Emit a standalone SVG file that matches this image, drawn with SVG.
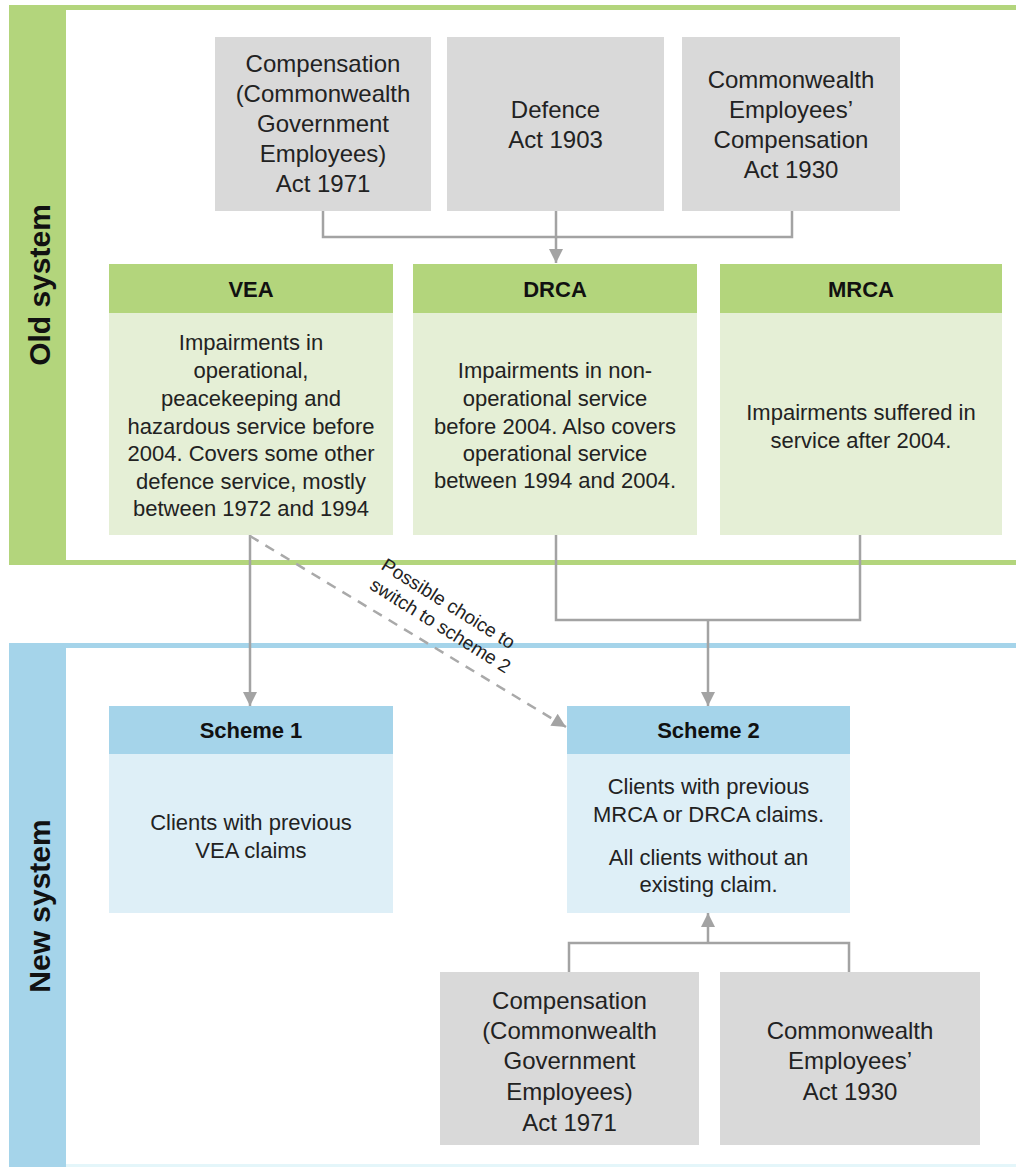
<svg xmlns="http://www.w3.org/2000/svg" width="1016" height="1167" viewBox="0 0 1016 1167">
<style>
.t{font-family:"Liberation Sans",Arial,sans-serif;fill:#222;text-anchor:middle}
.b22{font-size:22px}
.b24{font-size:24px}
.h{font-size:22px;font-weight:bold;fill:#111}
.side{font-family:"Liberation Sans",Arial,sans-serif;font-size:30px;font-weight:bold;fill:#111;text-anchor:middle}
.gray{fill:#d9d9d9}
.gh{fill:#b3d57c}
.gb{fill:#e5efd6}
.bh{fill:#a5d4ea}
.bb{fill:#deeff7}
.c{fill:none;stroke:#a3a3a3;stroke-width:2.5}
.d{fill:none;stroke:#a9a9a9;stroke-width:2.5;stroke-dasharray:10 8}
</style>
<defs>
<marker id="ah" viewBox="0 0 10 10" refX="10" refY="5" markerUnits="userSpaceOnUse" markerWidth="15" markerHeight="14" orient="auto">
<path d="M0,0 L10,5 L0,10 z" fill="#a3a3a3"/>
</marker>
</defs>
<rect width="1016" height="1167" fill="#ffffff"/>
<g id="old-system">
<rect x="9" y="5" width="1007" height="5" fill="#b3d57c"/>
<rect x="9" y="5" width="57" height="560" fill="#b3d57c"/>
<rect x="9" y="560" width="1007" height="5" fill="#b3d57c"/>
<text class="side" transform="translate(39,285) rotate(-90)" dy="0.35em">Old system</text>
</g>
<g id="new-system">
<rect x="9" y="643" width="1007" height="5" fill="#a5d4ea"/>
<rect x="9" y="643" width="57" height="524" fill="#a5d4ea"/>
<rect x="66" y="1164" width="950" height="3" fill="#e4f6fa"/>
<text class="side" transform="translate(39,906) rotate(-90)" dy="0.35em">New system</text>
</g>
<g id="connectors">
<path class="c" d="M323,211 V237 H792 V211"/>
<path class="c" d="M556,211 V263" marker-end="url(#ah)"/>
<path class="c" d="M250,535 V706" marker-end="url(#ah)"/>
<path class="d" d="M250,536 L566,727" marker-end="url(#ah)"/>
<path class="c" d="M556,535 V620 H860 V535"/>
<path class="c" d="M708,620 V706" marker-end="url(#ah)"/>
<path class="c" d="M569,972 V943 H849 V972"/>
<path class="c" d="M708,943 V913" marker-end="url(#ah)"/>
<g id="switch-label" class="t" style="font-size:19px">
<text transform="translate(445,609) rotate(32)">Possible choice to</text>
<text transform="translate(437,631) rotate(32)">switch to scheme 2</text>
</g>
</g>
<g id="act1971-top">
<rect class="gray" x="215" y="37" width="216" height="174"/>
<text class="t b24"><tspan x="323" y="72">Compensation</tspan><tspan x="323" y="102">(Commonwealth</tspan><tspan x="323" y="132">Government</tspan><tspan x="323" y="162">Employees)</tspan><tspan x="323" y="192">Act 1971</tspan></text>
</g>
<g id="defence1903">
<rect class="gray" x="447" y="37" width="217" height="174"/>
<text class="t b24"><tspan x="555.5" y="117.5">Defence</tspan><tspan x="555.5" y="147.5">Act 1903</tspan></text>
</g>
<g id="act1930-top">
<rect class="gray" x="682" y="37" width="218" height="174"/>
<text class="t b24"><tspan x="791" y="87.5">Commonwealth</tspan><tspan x="791" y="117.5">Employees’</tspan><tspan x="791" y="147.5">Compensation</tspan><tspan x="791" y="177.5">Act 1930</tspan></text>
</g>
<g id="vea">
<rect class="gb" x="109" y="264" width="284" height="271"/>
<rect class="gh" x="109" y="264" width="284" height="49"/>
<text class="t h" x="251" y="296.5">VEA</text>
<text class="t b22"><tspan x="251" y="350">Impairments in</tspan><tspan x="251" y="378">operational,</tspan><tspan x="251" y="406">peacekeeping and</tspan><tspan x="251" y="434">hazardous service before</tspan><tspan x="251" y="461">2004. Covers some other</tspan><tspan x="251" y="489">defence service, mostly</tspan><tspan x="251" y="516">between 1972 and 1994</tspan></text>
</g>
<g id="drca">
<rect class="gb" x="413" y="264" width="284" height="271"/>
<rect class="gh" x="413" y="264" width="284" height="49"/>
<text class="t h" x="555" y="296.5">DRCA</text>
<text class="t b22"><tspan x="555" y="378">Impairments in non-</tspan><tspan x="555" y="406">operational service</tspan><tspan x="555" y="434">before 2004. Also covers</tspan><tspan x="555" y="461">operational service</tspan><tspan x="555" y="488">between 1994 and 2004.</tspan></text>
</g>
<g id="mrca">
<rect class="gb" x="720" y="264" width="282" height="271"/>
<rect class="gh" x="720" y="264" width="282" height="49"/>
<text class="t h" x="861" y="296.5">MRCA</text>
<text class="t b22"><tspan x="861" y="420">Impairments suffered in</tspan><tspan x="861" y="448">service after 2004.</tspan></text>
</g>
<g id="scheme1">
<rect class="bb" x="109" y="706" width="284" height="207"/>
<rect class="bh" x="109" y="706" width="284" height="48"/>
<text class="t h" x="251" y="738">Scheme 1</text>
<text class="t b22"><tspan x="251" y="830">Clients with previous</tspan><tspan x="251" y="858">VEA claims</tspan></text>
</g>
<g id="scheme2">
<rect class="bb" x="567" y="706" width="283" height="207"/>
<rect class="bh" x="567" y="706" width="283" height="48"/>
<text class="t h" x="708.5" y="738">Scheme 2</text>
<text class="t b22"><tspan x="708.5" y="794">Clients with previous</tspan><tspan x="708.5" y="822">MRCA or DRCA claims.</tspan><tspan x="708.5" y="865">All clients without an</tspan><tspan x="708.5" y="892">existing claim.</tspan></text>
</g>
<g id="act1971-bottom">
<rect class="gray" x="440" y="972" width="259" height="173"/>
<text class="t b24"><tspan x="569.5" y="1008.5">Compensation</tspan><tspan x="569.5" y="1039">(Commonwealth</tspan><tspan x="569.5" y="1069">Government</tspan><tspan x="569.5" y="1100">Employees)</tspan><tspan x="569.5" y="1130.5">Act 1971</tspan></text>
</g>
<g id="act1930-bottom">
<rect class="gray" x="720" y="972" width="260" height="173"/>
<text class="t b24"><tspan x="850" y="1038.5">Commonwealth</tspan><tspan x="850" y="1069">Employees’</tspan><tspan x="850" y="1099.5">Act 1930</tspan></text>
</g>
</svg>
